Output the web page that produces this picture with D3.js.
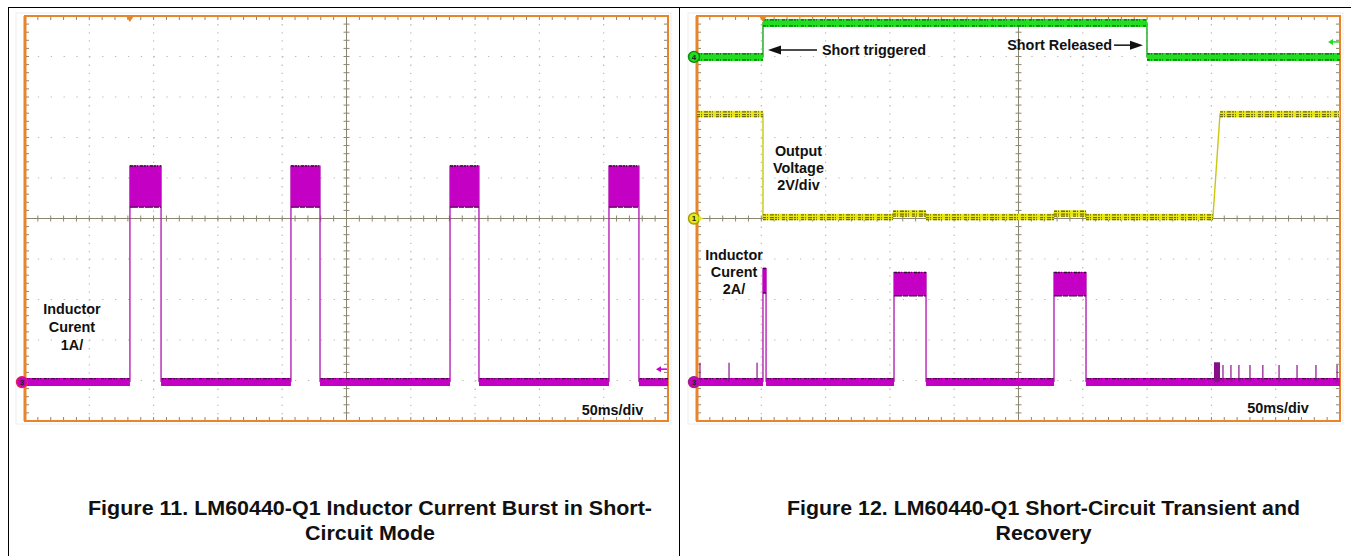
<!DOCTYPE html>
<html><head><meta charset="utf-8">
<script src="https://cdn.jsdelivr.net/npm/d3@7/dist/d3.min.js"></script>
<style>body{margin:0;background:#fff;} svg{display:block;}</style>
</head><body>
<svg id="c" width="1351" height="556"></svg>
<script>
// ================= DATA =================
const timeDomain = [0, 500];          // ms across screen (50 ms/div, 10 div)
const divDomain  = [-5, 5];           // vertical divisions

// ---- Figure 11: inductor current bursts (ch3, 1 A/div) ----
const fig11BurstStart = [81.6, 206.8, 330.5, 454.1];   // ms
const fig11BurstEnd   = [105.8, 229.4, 353.0, 477.4];  // ms
const fig11BurstHigh  = 5.35;   // A
const fig11BurstLow   = 4.32;   // A
const fig11TriggerT   = 81.6;   // ms

// ---- Figure 12: short-circuit transient ----
const fig12TriggerT = 51.3;
// ch4 (green): short control signal, in divisions above its reference
const ch4T = [0, 51.3, 51.3, 349.9, 349.9, 500];
const ch4V = [0, 0, 0.84, 0.84, 0, 0];
// ch1 (yellow): output voltage, V (2 V/div)
const ch1T = [0, 51.3, 51.3, 152.4, 152.4, 178.1, 178.1, 277.6, 277.6, 302.5, 302.5, 401.2, 406.7, 500];
const ch1V = [5.16, 5.16, 0.07, 0.07, 0.25, 0.25, 0.07, 0.07, 0.25, 0.25, 0.07, 0.07, 5.16, 5.16];
// ch3 (magenta): inductor current, A (2 A/div)
const ch3BaseStart = [0, 53.7, 178.1, 302.5];
const ch3BaseEnd   = [51.3, 153.2, 277.6, 500];
const ch3BurstStart = [153.2, 277.6];
const ch3BurstEnd   = [178.1, 302.5];
const ch3BurstHigh = 5.44, ch3BurstLow = 4.26;      // A
const ch3SpikeT = [51.3, 53.7], ch3SpikeHigh = 5.64, ch3SpikeLow = 4.4; // A
const ch3SmallSpikeT = [2.3, 24.9, 46.7, 409.0, 415.2, 421.4, 430.0, 440.0, 452.6, 466.6, 481.3, 497.7];
const ch3SmallSpikeV = [0.96, 0.96, 0.96, 0.84, 0.84, 0.84, 0.84, 0.84, 0.84, 0.84, 0.84, 0.84];
const ch3RestartT = [402.0, 406.7], ch3RestartV = 0.98;

// channel settings (reference offset in div, units per div)
const fig11Ch3 = {offset: -4.04, scale: 1};
const fig12Ch1 = {offset: 0,     scale: 2};
const fig12Ch3 = {offset: -4.04, scale: 2};
const fig12Ch4 = {offset: 3.99,  scale: 1};

// ================= STYLE =================
const FONT = '"Liberation Sans", Arial, Helvetica, sans-serif';
const ORANGE = '#e8842a', AXIS = '#8a8670', GRID = '#b8b8b8';
const MAG = '#c400c4', MAG_THIN = '#b010b0', MAG_DARK = '#3c0838';
const GREEN = '#22dd22', GREEN_DARK = '#0b4f0b';
const YEL = '#e8e818', YEL_DARK = '#5e5a08';

const svg = d3.select('#c');

// page frame
svg.append('line').attr('x1', 8).attr('x2', 1351).attr('y1', 7.5).attr('y2', 7.5).attr('stroke', '#000');
svg.append('line').attr('x1', 8.5).attr('x2', 8.5).attr('y1', 7).attr('y2', 556).attr('stroke', '#000');
svg.append('line').attr('x1', 679.5).attr('x2', 679.5).attr('y1', 7).attr('y2', 556).attr('stroke', '#000');

function panel(x0, x1, y0, y1) {
  const x = d3.scaleLinear().domain(timeDomain).range([x0, x1]);
  const y = d3.scaleLinear().domain(divDomain).range([y1, y0]);
  const g = svg.append('g');
  g.append('rect').attr('x', x0 - 9).attr('y', y0 - 3).attr('width', x1 - x0 + 12).attr('height', y1 - y0 + 6)
    .attr('fill', '#fff').attr('stroke', '#eeeeee');
  const minorX = (x1 - x0) / 50, minorY = (y1 - y0) / 50;
  // dotted grid
  const vDiv = d3.range(1, 10).filter(d => d !== 5).map(d => d * 50);
  const hDiv = d3.range(-4, 5).filter(d => d !== 0);
  g.selectAll('.vg').data(vDiv).join('line')
    .attr('x1', d => x(d)).attr('x2', d => x(d)).attr('y1', y0).attr('y2', y1)
    .attr('stroke', GRID).attr('stroke-width', 1.2).attr('stroke-dasharray', `1.3 ${minorY - 1.3}`);
  g.selectAll('.hg').data(hDiv).join('line')
    .attr('x1', x0).attr('x2', x1).attr('y1', d => y(d)).attr('y2', d => y(d))
    .attr('stroke', GRID).attr('stroke-width', 1.2).attr('stroke-dasharray', `1.3 ${minorX - 1.3}`);
  // centre axes
  const xc = x(250), yc = y(0);
  g.append('line').attr('x1', x0).attr('x2', x1).attr('y1', yc).attr('y2', yc).attr('stroke', AXIS).attr('stroke-width', 1);
  g.append('line').attr('x1', xc).attr('x2', xc).attr('y1', y0).attr('y2', y1).attr('stroke', AXIS).attr('stroke-width', 1);
  const tx = d3.range(0, 501, 10), ty = d3.range(-5, 5.01, 0.2);
  g.selectAll('.ctx').data(tx).join('line')
    .attr('x1', d => x(d)).attr('x2', d => x(d)).attr('y1', yc - 3).attr('y2', yc + 3).attr('stroke', AXIS);
  g.selectAll('.cty').data(ty).join('line')
    .attr('x1', xc - 3).attr('x2', xc + 3).attr('y1', d => y(d)).attr('y2', d => y(d)).attr('stroke', AXIS);
  // edge ticks
  g.selectAll('.ett').data(tx).join('line')
    .attr('x1', d => x(d)).attr('x2', d => x(d)).attr('y1', y0).attr('y2', y0 + 4).attr('stroke', AXIS);
  g.selectAll('.etb').data(tx).join('line')
    .attr('x1', d => x(d)).attr('x2', d => x(d)).attr('y1', y1 - 4).attr('y2', y1).attr('stroke', AXIS);
  g.selectAll('.etl').data(ty).join('line')
    .attr('x1', x0).attr('x2', x0 + 4).attr('y1', d => y(d)).attr('y2', d => y(d)).attr('stroke', AXIS);
  g.selectAll('.etr').data(ty).join('line')
    .attr('x1', x1 - 4).attr('x2', x1).attr('y1', d => y(d)).attr('y2', d => y(d)).attr('stroke', AXIS);
  // border
  g.append('rect').attr('x', x0).attr('y', y0).attr('width', x1 - x0).attr('height', y1 - y0)
    .attr('fill', 'none').attr('stroke', ORANGE).attr('stroke-width', 2);
  g.append('line').attr('x1', x0).attr('x2', x0).attr('y1', y0).attr('y2', y1).attr('stroke', ORANGE).attr('stroke-width', 3);
  const traces = svg.append('g');
  const overlay = svg.append('g');
  return {x, y, g, traces, overlay, x0, x1, y0, y1};
}

function chY(p, ch, v) { return p.y(ch.offset + v / ch.scale); }

function band(p, t0, t1, yy, w, color, dark, darkEdges) {
  p.traces.append('line').attr('x1', p.x(t0)).attr('x2', p.x(t1)).attr('y1', yy).attr('y2', yy)
    .attr('stroke', color).attr('stroke-width', w);
  darkEdges.forEach(off => {
    p.traces.append('line').attr('x1', p.x(t0)).attr('x2', p.x(t1)).attr('y1', yy + off).attr('y2', yy + off)
      .attr('stroke', dark).attr('stroke-width', 1.3).attr('opacity', 0.85)
      .attr('stroke-dasharray', '3 1 1 2 4 1 2 1 1 3');
  });
}

function stepTrace(p, ch, T, V, w, color, thin, dark, darkEdges) {
  const line = d3.line().x((d, i) => p.x(T[i])).y((d, i) => chY(p, ch, V[i]));
  p.traces.append('path').attr('d', line(T)).attr('fill', 'none').attr('stroke', thin).attr('stroke-width', 1.4);
  for (let i = 0; i < T.length - 1; i++) {
    if (V[i] === V[i + 1] && T[i + 1] > T[i]) band(p, T[i], T[i + 1], chY(p, ch, V[i]), w, color, dark, darkEdges);
  }
}

function burst(p, ch, t0, t1, hi, lo) {
  const yb = chY(p, ch, 0), yh = chY(p, ch, hi), yl = chY(p, ch, lo);
  [t0, t1].forEach(t => p.traces.append('line').attr('x1', p.x(t)).attr('x2', p.x(t))
    .attr('y1', yb).attr('y2', yh).attr('stroke', MAG_THIN).attr('stroke-width', 1.3));
  p.traces.append('rect').attr('x', p.x(t0)).attr('width', p.x(t1) - p.x(t0))
    .attr('y', yh).attr('height', yl - yh).attr('fill', MAG);
  p.traces.append('line').attr('x1', p.x(t0)).attr('x2', p.x(t1)).attr('y1', yh + 0.5).attr('y2', yh + 0.5)
    .attr('stroke', MAG_DARK).attr('stroke-width', 1.5).attr('stroke-dasharray', '3 1 2 1 1 2');
  p.traces.append('line').attr('x1', p.x(t0)).attr('x2', p.x(t1)).attr('y1', yl).attr('y2', yl)
    .attr('stroke', MAG_DARK).attr('stroke-width', 1.4).attr('stroke-dasharray', '8 1 5 1');
}

function chanMarker(p, yy, fill, stroke, label) {
  const cx = p.x0 - 3;
  p.overlay.append('circle').attr('cx', cx).attr('cy', yy).attr('r', 5.5)
    .attr('fill', fill).attr('stroke', stroke).attr('stroke-width', 1.4);
  p.overlay.append('text').attr('x', cx).attr('y', yy + 2.8).attr('text-anchor', 'middle')
    .attr('font-family', FONT).attr('font-size', 8).attr('font-weight', 'bold').attr('fill', '#222').text(label);
}

function refArrow(p, yy, color) {
  const x1 = p.x1 - 1, xa = p.x1 - 12;
  p.overlay.append('line').attr('x1', xa + 4).attr('x2', x1).attr('y1', yy).attr('y2', yy)
    .attr('stroke', color).attr('stroke-width', 1.5);
  p.overlay.append('path').attr('d', `M${xa},${yy} L${xa + 5},${yy - 3} L${xa + 5},${yy + 3} Z`).attr('fill', color);
}

function trigMarker(p, t) {
  const xx = p.x(t);
  p.overlay.append('path').attr('d', `M${xx - 4},${p.y0} L${xx + 4},${p.y0} L${xx},${p.y0 + 6} Z`).attr('fill', ORANGE);
}

function label(p, lines, t, divs, anchor) {
  lines.forEach((s, i) => {
    p.overlay.append('text').attr('x', p.x(t)).attr('y', p.y(divs[i]))
      .attr('text-anchor', anchor || 'middle').attr('font-family', FONT).attr('font-weight', 'bold')
      .attr('font-size', 14.4).attr('fill', '#111').text(s);
  });
}

function hArrow(p, tFrom, tTo, div) {
  const yy = p.y(div), xf = p.x(tFrom), xt = p.x(tTo);
  const dir = xt > xf ? 1 : -1;
  p.overlay.append('line').attr('x1', xf).attr('x2', xt - dir * 10).attr('y1', yy).attr('y2', yy)
    .attr('stroke', '#111').attr('stroke-width', 1.5);
  p.overlay.append('path').attr('d', `M${xt},${yy} L${xt - dir * 13},${yy - 4.5} L${xt - dir * 13},${yy + 4.5} Z`).attr('fill', '#111');
}

// ================= FIGURE 11 =================
const p1 = panel(25, 668, 16, 421);
{
  const ybase = chY(p1, fig11Ch3, 0);
  const bStart = [timeDomain[0]].concat(fig11BurstEnd);
  const bEnd = fig11BurstStart.concat([timeDomain[1]]);
  bStart.forEach((s, i) => band(p1, s, bEnd[i], ybase, 8, MAG, MAG_DARK, [-3.5]));
  fig11BurstStart.forEach((s, i) => burst(p1, fig11Ch3, s, fig11BurstEnd[i], fig11BurstHigh, fig11BurstLow));
  chanMarker(p1, ybase, MAG, '#e0205a', '3');
  refArrow(p1, p1.y(-3.72), MAG);
  trigMarker(p1, fig11TriggerT);
  label(p1, ['Inductor', 'Curent', '1A/'], 36.5, [-2.36, -2.80, -3.25]);
  label(p1, ['50ms/div'], 456.8, [-4.86]);
}

// ================= FIGURE 12 =================
const p2 = panel(697, 1340, 16, 421);
{
  stepTrace(p2, fig12Ch4, ch4T, ch4V, 8, GREEN, '#1aa81a', GREEN_DARK, [-3, 3]);
  stepTrace(p2, fig12Ch1, ch1T, ch1V, 6.5, YEL, '#c8c810', YEL_DARK, [-2.2, 0.6, 2.6]);
  const ybase = chY(p2, fig12Ch3, 0);
  ch3BaseStart.forEach((s, i) => band(p2, s, ch3BaseEnd[i], ybase, 8, MAG, MAG_DARK, [-3.5]));
  ch3SmallSpikeT.forEach((t, i) => p2.traces.append('line').attr('x1', p2.x(t)).attr('x2', p2.x(t))
    .attr('y1', ybase).attr('y2', chY(p2, fig12Ch3, ch3SmallSpikeV[i])).attr('stroke', '#8a128a').attr('stroke-width', 1.2));
  p2.traces.append('rect').attr('x', p2.x(ch3RestartT[0])).attr('width', p2.x(ch3RestartT[1]) - p2.x(ch3RestartT[0]))
    .attr('y', chY(p2, fig12Ch3, ch3RestartV)).attr('height', ybase - chY(p2, fig12Ch3, ch3RestartV)).attr('fill', '#86108a');
  burst(p2, fig12Ch3, ch3SpikeT[0], ch3SpikeT[1], ch3SpikeHigh, ch3SpikeLow);
  ch3BurstStart.forEach((s, i) => burst(p2, fig12Ch3, s, ch3BurstEnd[i], ch3BurstHigh, ch3BurstLow));
  chanMarker(p2, chY(p2, fig12Ch4, 0), GREEN, '#0a8a0a', '4');
  chanMarker(p2, chY(p2, fig12Ch1, 0), YEL, '#a0a000', '1');
  chanMarker(p2, ybase, MAG, '#a0208a', '3');
  p2.overlay.append('path').attr('d', `M${p2.x0 + 2},${p2.y(0) - 3} L${p2.x0 + 6},${p2.y(0)} L${p2.x0 + 2},${p2.y(0) + 3} Z`).attr('fill', YEL);
  refArrow(p2, p2.y(4.36), GREEN);
  trigMarker(p2, fig12TriggerT);
  hArrow(p2, 93.3, 55.2, 4.16);
  label(p2, ['Short triggered'], 97.2, [4.04], 'start');
  hArrow(p2, 324.3, 346.8, 4.28);
  label(p2, ['Short Released'], 322.7, [4.16], 'end');
  label(p2, ['Output', 'Voltage', '2V/div'], 78.9, [1.54, 1.12, 0.70]);
  label(p2, ['Inductor', 'Curent', '2A/'], 28.8, [-1.02, -1.44, -1.86]);
  label(p2, ['50ms/div'], 451.8, [-4.80]);
}

// ================= CAPTIONS =================
function caption(x0, width, lines) {
  const nodes = lines.map((s, i) => svg.append('text').attr('y', 515 + i * 25)
    .attr('font-family', FONT).attr('font-weight', 'bold').attr('font-size', 19.5).attr('fill', '#111').text(s));
  const factor = width / nodes[0].node().getComputedTextLength();
  const cx = x0 + width / 2;
  nodes.forEach(n => {
    const w = n.node().getComputedTextLength() * factor;
    n.attr('x', cx - w / 2).attr('textLength', w).attr('lengthAdjust', 'spacingAndGlyphs');
  });
}
caption(88, 564, ['Figure 11. LM60440-Q1 Inductor Current Burst in Short-', 'Circuit Mode']);
caption(787, 513, ['Figure 12. LM60440-Q1 Short-Circuit Transient and', 'Recovery']);
</script>
</body></html>
